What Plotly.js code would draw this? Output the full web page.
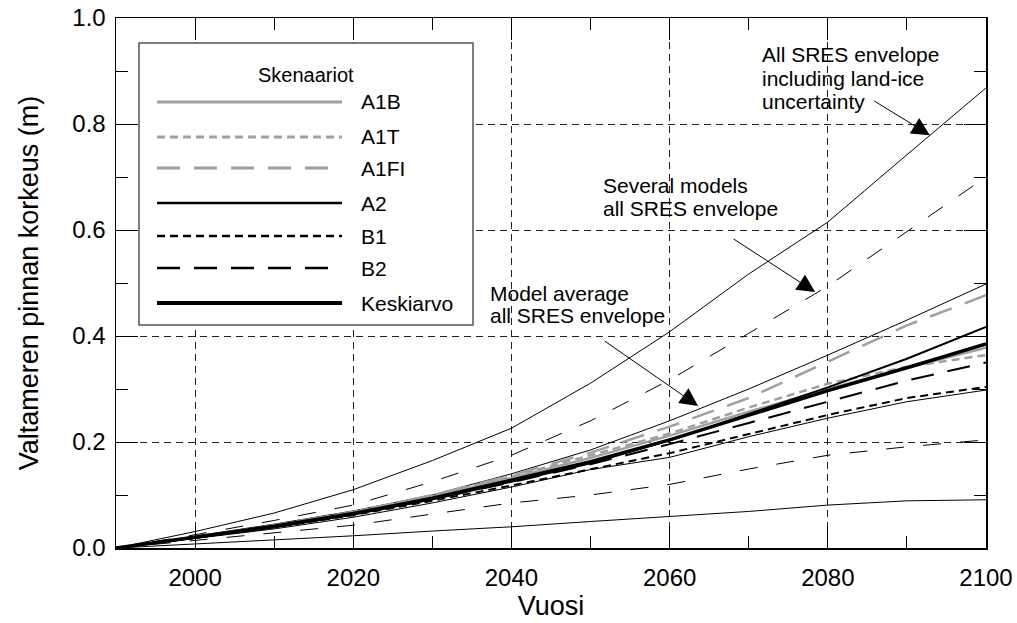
<!DOCTYPE html>
<html><head><meta charset="utf-8">
<script src="https://cdn.plot.ly/plotly-3.0.1.min.js"></script>
<style>html,body{margin:0;padding:0;background:#fff}#chart{width:1017px;height:623px}</style>
</head><body><div id="chart"></div>
<script>
// ---- data ----
const years = [1990, 2000, 2010, 2020, 2030, 2040, 2050, 2060, 2070, 2080, 2090, 2100];

// envelopes
const landIceUpper  = [0, 0.031, 0.066, 0.110, 0.165, 0.226, 0.311, 0.408, 0.517, 0.615, 0.742, 0.868];
const landIceLower  = [0, 0.0075, 0.015, 0.023, 0.032, 0.040, 0.050, 0.059, 0.069, 0.081, 0.089, 0.091];
const severalUpper  = [0, 0.025, 0.052, 0.081, 0.125, 0.175, 0.240, 0.317, 0.405, 0.494, 0.597, 0.700];
const severalLower  = [0, 0.014, 0.028, 0.043, 0.064, 0.085, 0.100, 0.120, 0.149, 0.175, 0.191, 0.204];
const avgUpper      = [0, 0.023, 0.045, 0.070, 0.100, 0.140, 0.185, 0.240, 0.300, 0.364, 0.430, 0.498];
const avgLower      = [0, 0.018, 0.036, 0.058, 0.085, 0.115, 0.148, 0.171, 0.210, 0.245, 0.276, 0.298];

// scenarios
const scenA1B  = [0, 0.020, 0.042, 0.067, 0.097, 0.132, 0.170, 0.212, 0.257, 0.300, 0.340, 0.378];
const scenA1T  = [0, 0.020, 0.042, 0.068, 0.099, 0.135, 0.175, 0.216, 0.265, 0.310, 0.342, 0.364];
const scenA1FI = [0, 0.020, 0.043, 0.068, 0.100, 0.137, 0.180, 0.229, 0.283, 0.352, 0.420, 0.477];
const scenA2   = [0, 0.019, 0.039, 0.063, 0.092, 0.125, 0.160, 0.203, 0.253, 0.303, 0.357, 0.417];
const scenB1   = [0, 0.019, 0.039, 0.062, 0.089, 0.118, 0.149, 0.179, 0.215, 0.251, 0.283, 0.304];
const scenB2   = [0, 0.019, 0.040, 0.063, 0.092, 0.124, 0.158, 0.196, 0.236, 0.276, 0.316, 0.350];
const keskiarvo= [0, 0.020, 0.041, 0.065, 0.094, 0.128, 0.163, 0.204, 0.250, 0.297, 0.340, 0.385];

const legendTitle = 'Skenaariot';
const legendNames = ['A1B', 'A1T', 'A1FI', 'A2', 'B1', 'B2', 'Keskiarvo'];
const xTitle = 'Vuosi';
const yTitle = 'Valtameren pinnan korkeus (m)';
const noteLandIce = ['All SRES envelope', 'including land-ice', 'uncertainty'];
const noteSeveral = ['Several models', 'all SRES envelope'];
const noteAverage = ['Model average', 'all SRES envelope'];
// arrow head targets (year, value)
const arrowLandIce = [2092.9, 0.779];
const arrowSeveral = [2078.4, 0.483];
const arrowAverage = [2063.6, 0.268];

// ---- styles ----
const GRAY = '#a0a0a0';
const FONT = 'Liberation Sans, Arial, sans-serif';
const SHORT = '8px,5px';
const LONG = '23px,14px';
const ENVDASH = '18px,19px';

const scenStyles = [
  {color: GRAY, width: 2.5, dash: 'solid'},
  {color: GRAY, width: 2.5, dash: SHORT},
  {color: GRAY, width: 2.5, dash: LONG},
  {color: '#000', width: 2, dash: 'solid'},
  {color: '#000', width: 2, dash: SHORT},
  {color: '#000', width: 2, dash: LONG},
  {color: '#000', width: 3.5, dash: 'solid'}
];
const scenData = [scenA1B, scenA1T, scenA1FI, scenA2, scenB1, scenB2, keskiarvo];

const traces = [];
[[landIceUpper,'solid'],[landIceLower,'solid'],[severalUpper,ENVDASH],[severalLower,ENVDASH],[avgUpper,'solid'],[avgLower,'solid']]
  .forEach(([d, dash]) => traces.push({x: years, y: d, mode: 'lines', line: {color: '#000', width: 1, dash: dash}, hoverinfo: 'skip'}));
scenData.forEach((d, i) => traces.push({x: years, y: d, mode: 'lines', name: legendNames[i], line: scenStyles[i]}));

// pixel helpers for plot geometry
const W = 1017, H = 623, L = 116, R = 986, T = 18, B = 548;
const px = v => (v - L) / (R - L);
const py = v => (B - v) / (B - T);

const shapes = [];
const annotations = [];

// custom legend box
shapes.push({type: 'rect', xref: 'paper', yref: 'paper', x0: px(139), x1: px(473), y0: py(43), y1: py(325),
  fillcolor: '#fff', line: {color: '#555', width: 1.5}, layer: 'above'});
annotations.push({xref: 'paper', yref: 'paper', x: px(306), y: py(75), text: legendTitle, showarrow: false,
  xanchor: 'center', yanchor: 'middle', font: {family: FONT, size: 20, color: '#000'}});
const rowY = [102, 137, 168, 203, 236, 268, 303];
legendNames.forEach((n, i) => {
  const st = scenStyles[i];
  shapes.push({type: 'line', xref: 'paper', yref: 'paper', x0: px(157), x1: px(342), y0: py(rowY[i]), y1: py(rowY[i]),
    line: {color: st.color, width: st.width + 0.5, dash: st.dash}, layer: 'above'});
  annotations.push({xref: 'paper', yref: 'paper', x: px(359), y: py(rowY[i]), text: n, showarrow: false,
    xanchor: 'left', yanchor: 'middle', font: {family: FONT, size: 21, color: '#000'}});
});

// text notes
function addLines(lines, left, top, step) {
  lines.forEach((t, i) => annotations.push({xref: 'paper', yref: 'paper', x: px(left), y: py(top + i * step), text: t,
    showarrow: false, xanchor: 'left', yanchor: 'middle', font: {family: FONT, size: 21, color: '#000'}}));
}
addLines(noteLandIce, 760, 55, 23.5);
addLines(noteSeveral, 601, 185, 23);
addLines(noteAverage, 488, 293, 22);

// arrows
function addArrow(target, ax, ay) {
  annotations.push({x: target[0], y: target[1], xref: 'x', yref: 'y', text: '', showarrow: true,
    ax: ax, ay: ay, arrowhead: 2, arrowsize: 3.6, arrowwidth: 1, arrowcolor: '#000'});
}
addArrow(arrowLandIce, -57, -35);
addArrow(arrowSeveral, -83, -54);
addArrow(arrowAverage, -95, -66);

const axisCommon = {
  showline: true, linecolor: '#000', linewidth: 1.5, mirror: 'ticks',
  ticks: 'inside', ticklen: 22, tickwidth: 1, tickcolor: '#000',
  showgrid: true, gridcolor: '#222', gridwidth: 1, griddash: '7px,5px',
  zeroline: false, tickfont: {family: FONT, size: 24, color: '#000'}
};

const layout = {
  width: W, height: H,
  margin: {l: L, r: W - R, t: T, b: H - B},
  paper_bgcolor: '#fff', plot_bgcolor: '#fff',
  showlegend: false,
  xaxis: Object.assign({}, axisCommon, {
    range: [1990, 2100], tick0: 2000, dtick: 20, ticklabelstandoff: 8,
    minor: {dtick: 10, tick0: 2000, ticks: 'inside', ticklen: 12, tickcolor: '#000', showgrid: false},
    title: {text: xTitle, font: {family: FONT, size: 27, color: '#000'}, standoff: 4}
  }),
  yaxis: Object.assign({}, axisCommon, {
    range: [0, 1], dtick: 0.2, tickformat: '.1f', ticklabelstandoff: 4,
    minor: {dtick: 0.1, ticks: 'inside', ticklen: 12, tickcolor: '#000', showgrid: false},
    title: {text: yTitle, font: {family: FONT, size: 27, color: '#000'}, standoff: 26}
  }),
  shapes: shapes,
  annotations: annotations
};

Plotly.newPlot('chart', traces, layout, {displayModeBar: false, staticPlot: true});
</script>
</body></html>
